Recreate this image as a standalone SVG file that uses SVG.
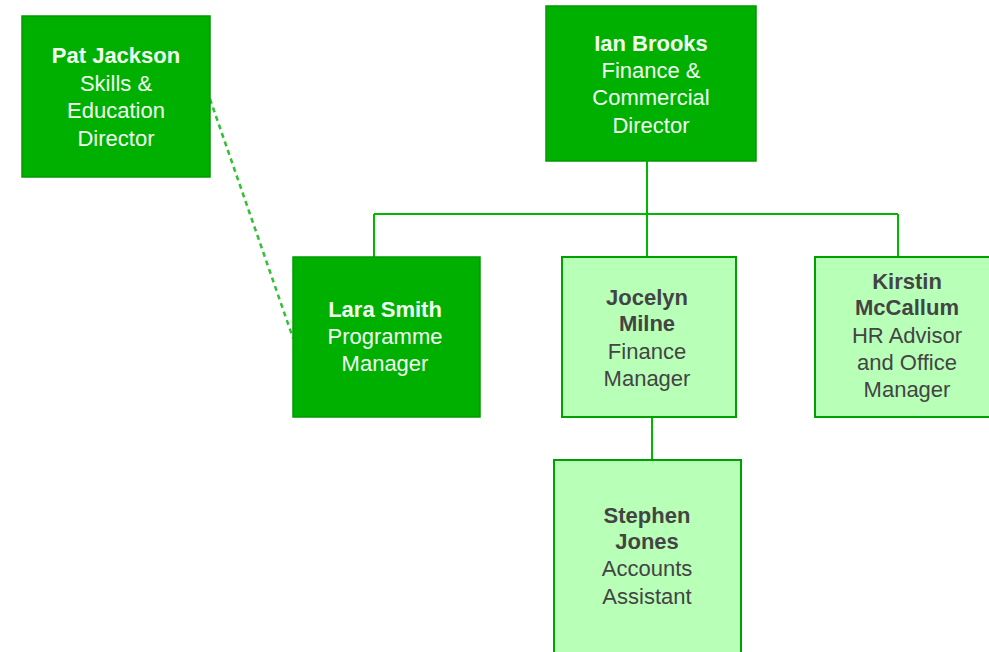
<svg xmlns="http://www.w3.org/2000/svg" width="989" height="652" viewBox="0 0 989 652">
<style>
.dark{fill:#00b000;stroke:#009a00;stroke-width:1.5}
.light{fill:#b8ffb8;stroke:#00a000;stroke-width:2}
text{font-family:"Liberation Sans",Arial,sans-serif;font-size:22px;text-anchor:middle}
.w{fill:#f0fff0}
.g{fill:#444}
.b{font-weight:bold}
.ln{stroke:#00b800;stroke-width:2;fill:none}
.dash{stroke:#33c033;stroke-width:2.5;fill:none;stroke-dasharray:5 4}
</style>
<rect width="989" height="652" fill="#fff"/>
<g id="connectors">
<path class="ln" d="M647 161V214M374 214H898M374 214V258M647 214V258M898 214V258M652 417V460"/>
<path class="dash" d="M210 99L293 338"/>
</g>
<g id="pat">
<rect class="dark" x="22" y="16" width="188" height="161"/>
<text class="w" x="116"><tspan class="b" x="116" y="63">Pat Jackson</tspan><tspan x="116" y="91">Skills &amp;</tspan><tspan x="116" y="118">Education</tspan><tspan x="116" y="146">Director</tspan></text>
</g>
<g id="ian">
<rect class="dark" x="546" y="6" width="210" height="155"/>
<text class="w" x="651"><tspan class="b" x="651" y="51">Ian Brooks</tspan><tspan x="651" y="78">Finance &amp;</tspan><tspan x="651" y="105">Commercial</tspan><tspan x="651" y="133">Director</tspan></text>
</g>
<g id="lara">
<rect class="dark" x="293" y="257" width="187" height="160"/>
<text class="w" x="385"><tspan class="b" x="385" y="317">Lara Smith</tspan><tspan x="385" y="344">Programme</tspan><tspan x="385" y="371">Manager</tspan></text>
</g>
<g id="jocelyn">
<rect class="light" x="562" y="257" width="174" height="160"/>
<text class="g" x="647"><tspan class="b" x="647" y="305">Jocelyn</tspan><tspan class="b" x="647" y="331">Milne</tspan><tspan x="647" y="359">Finance</tspan><tspan x="647" y="386">Manager</tspan></text>
</g>
<g id="kirstin">
<rect class="light" x="815" y="257" width="180" height="160"/>
<text class="g" x="907"><tspan class="b" x="907" y="289">Kirstin</tspan><tspan class="b" x="907" y="315">McCallum</tspan><tspan x="907" y="343">HR Advisor</tspan><tspan x="907" y="370">and Office</tspan><tspan x="907" y="397">Manager</tspan></text>
</g>
<g id="stephen">
<rect class="light" x="554" y="460" width="187" height="200"/>
<text class="g" x="647"><tspan class="b" x="647" y="523">Stephen</tspan><tspan class="b" x="647" y="549">Jones</tspan><tspan x="647" y="576">Accounts</tspan><tspan x="647" y="604">Assistant</tspan></text>
</g>
</svg>
